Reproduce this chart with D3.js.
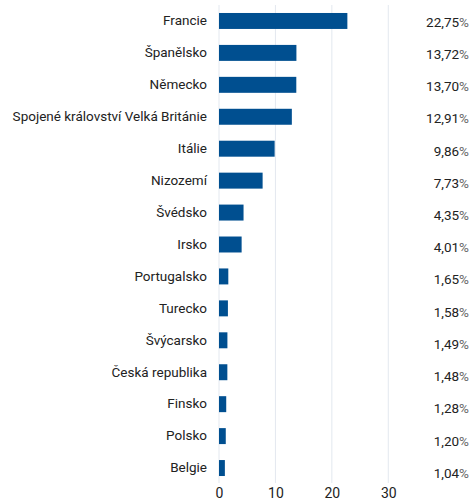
<!DOCTYPE html>
<html>
<head>
<meta charset="utf-8">
<script src="https://cdn.jsdelivr.net/npm/d3@7"></script>
<style>
  body { margin: 0; background: #fff; }
  text { font-family: Roboto, "Open Sans", sans-serif; }
</style>
</head>
<body>
<div id="container"></div>
<script>
const width = 471;
const height = 502;

const countries = ['Francie', 'Španělsko', 'Německo', 'Spojené království Velká Británie', 'Itálie', 'Nizozemí', 'Švédsko', 'Irsko', 'Portugalsko', 'Turecko', 'Švýcarsko', 'Česká republika', 'Finsko', 'Polsko', 'Belgie'];
const shares = [22.75, 13.72, 13.70, 12.91, 9.86, 7.73, 4.35, 4.01, 1.65, 1.58, 1.49, 1.48, 1.28, 1.20, 1.04];
const xTicks = [0, 10, 20, 30];

const svg = d3.select('#container')
    .append('svg')
    .attr('width', width)
    .attr('height', height);

const xScale = d3.scaleLinear().domain([0, 40]).range([219, 444.7]);
const yScale = d3.scaleBand()
    .domain(countries)
    .range([5, 484])
    .paddingInner(0.5)
    .paddingOuter(0.25);
const labelScale = d3.scalePoint().domain(countries).range([22, 473]);

// grid
svg.append('g')
    .selectAll('line')
    .data(xTicks)
    .enter()
    .append('line')
    .attr('x1', d => xScale(d))
    .attr('x2', d => xScale(d))
    .attr('y1', 5)
    .attr('y2', 483)
    .attr('stroke', '#e3e8ef')
    .attr('stroke-width', 1);

svg.selectAll('rect.bar')
    .data(countries)
    .enter()
    .append('rect')
    .attr('class', 'bar')
    .attr('x', xScale(0))
    .attr('y', d => yScale(d))
    .attr('width', (d, i) => xScale(shares[i]) - xScale(0))
    .attr('height', yScale.bandwidth())
    .attr('fill', '#004f90');

const yAxis = d3.axisLeft(yScale).tickSize(0).tickPadding(12);
svg.append('g')
    .attr('transform', 'translate(' + xScale(0) + ',0)')
    .call(yAxis)
    .call(g => g.select('.domain').remove())
    .selectAll('text')
    .attr('font-size', 13.5)
    .attr('font-family', 'Roboto, sans-serif')
    .attr('fill', '#222');

const xAxis = d3.axisBottom(xScale).tickValues(xTicks).tickSize(0).tickPadding(5);
svg.append('g')
    .attr('transform', 'translate(0,483)')
    .call(xAxis)
    .call(g => g.select('.domain').remove())
    .selectAll('text')
    .attr('font-size', 14)
    .attr('font-family', 'Roboto, sans-serif')
    .attr('fill', '#222');

// percentage labels
const pct = svg.append('g')
    .selectAll('text')
    .data(countries)
    .enter()
    .append('text')
    .attr('x', 469)
    .attr('y', d => labelScale(d))
    .attr('dy', '0.35em')
    .attr('text-anchor', 'end')
    .attr('font-size', 13.5)
    .attr('fill', '#222');
pct.append('tspan').text((d, i) => d3.format('.2f')(shares[i]).replace('.', ','));
pct.append('tspan').attr('fill', '#666').text('%');
</script>
</body>
</html>
